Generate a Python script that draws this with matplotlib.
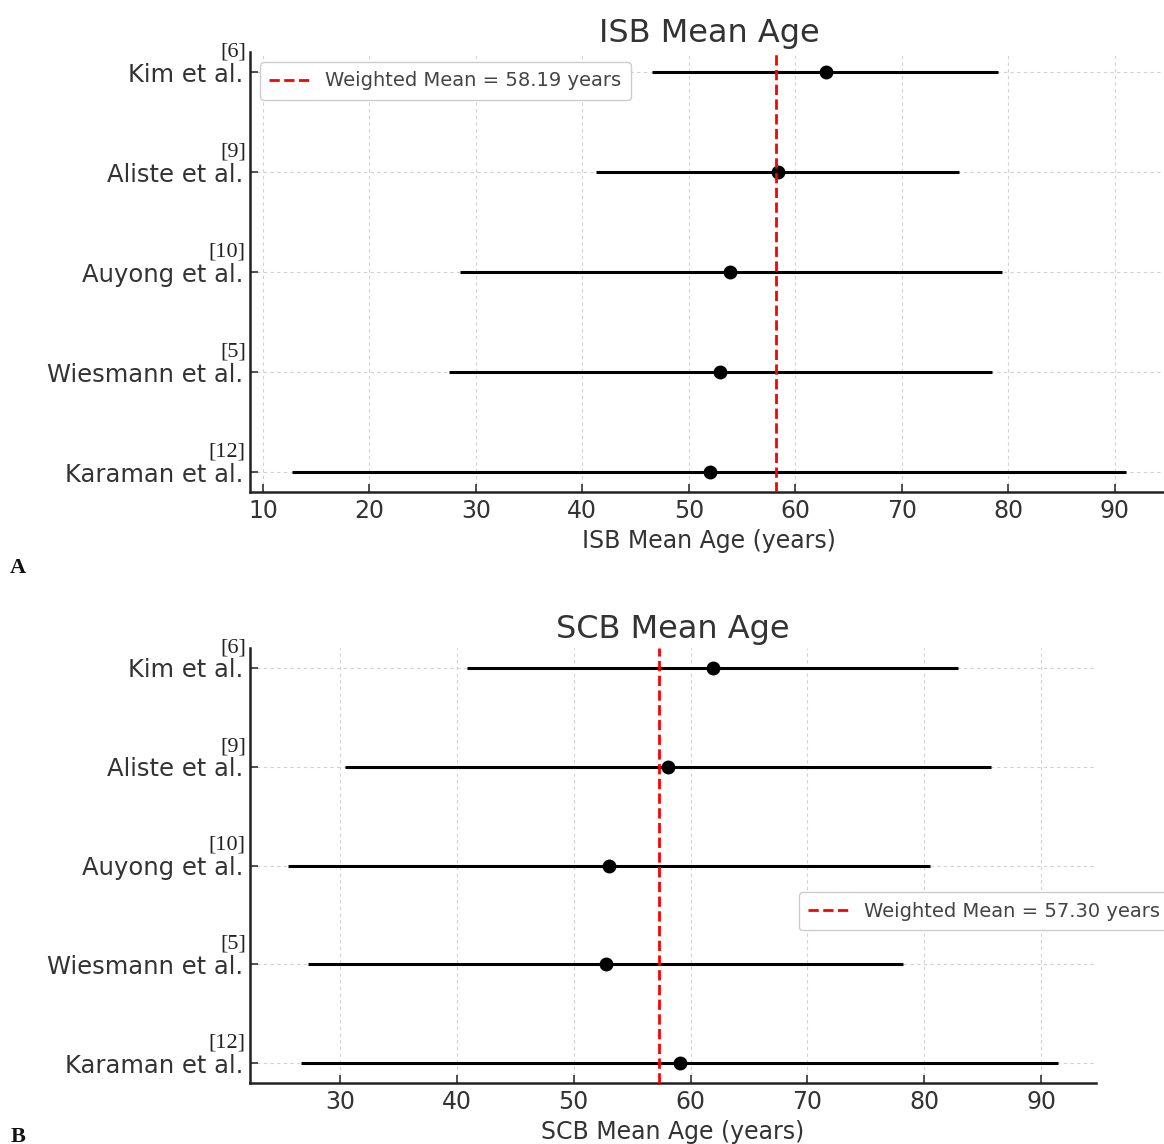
import matplotlib.pyplot as plt

studies = ['Kim et al.', 'Aliste et al.', 'Auyong et al.', 'Wiesmann et al.', 'Karaman et al.']
refs = ['[6]', '[9]', '[10]', '[5]', '[12]']

# ISB panel (A)
isb_mean = [62.9, 58.4, 53.9, 52.9, 52.0]
isb_low = [46.5, 41.3, 28.5, 27.5, 12.7]
isb_high = [79.0, 75.4, 79.4, 78.5, 91.1]
isb_weighted = 58.19

# SCB panel (B)
scb_mean = [61.9, 58.1, 53.0, 52.8, 59.1]
scb_low = [40.9, 30.4, 25.6, 27.3, 26.7]
scb_high = [82.9, 85.7, 80.5, 78.2, 91.4]
scb_weighted = 57.30

TXT = '#333333'


def forest(ax, means, lows, highs, wmean, name):
    ys = list(range(len(studies)))
    xerr = [[m - l for m, l in zip(means, lows)], [h - m for m, h in zip(means, highs)]]
    ax.errorbar(means, ys, xerr=xerr, fmt='o', color='black', ecolor='black',
                elinewidth=2.2, capsize=0, markersize=9, zorder=3)
    line = ax.axvline(wmean, color='red', linestyle='--', linewidth=2,
                      label=f'Weighted Mean = {wmean:.2f} years', zorder=4)
    ax.set_yticks(ys)
    ax.set_yticklabels(studies)
    ax.invert_yaxis()
    ax.set_title(f'{name} Mean Age', fontsize=23, color=TXT, pad=7)
    ax.set_xlabel(f'{name} Mean Age (years)', fontsize=17, color=TXT, labelpad=4)
    ax.grid(True, linestyle=(0, (3, 3)), color='#d2d2d2', linewidth=0.8)
    ax.set_axisbelow(True)
    for s in ['top', 'right']:
        ax.spines[s].set_visible(False)
    for s in ['left', 'bottom']:
        ax.spines[s].set_linewidth(1.8)
        ax.spines[s].set_color('#222222')
    ax.tick_params(direction='in', length=6, width=1.2, color='#333333',
                   labelsize=17, labelcolor=TXT, pad=5)
    ax.tick_params(axis='y', labelsize=17.5)
    for y, r in zip(ys, refs):
        ax.annotate(r, xy=(0, y), xycoords=ax.get_yaxis_transform(),
                    xytext=(-3, 14.5), textcoords='offset points',
                    ha='right', va='center', fontsize=16,
                    fontfamily='Liberation Serif', color='#222222')
    return line


fig = plt.figure(figsize=(11.64, 11.44), dpi=100)
ax1 = fig.add_axes([0.2148, 0.5699, 0.7887, 0.3846])
ax2 = fig.add_axes([0.2148, 0.0533, 0.7268, 0.3802])

forest(ax1, isb_mean, isb_low, isb_high, isb_weighted, 'ISB')
forest(ax2, scb_mean, scb_low, scb_high, scb_weighted, 'SCB')

ax1.set_xticks([10, 20, 30, 40, 50, 60, 70, 80, 90])
ax2.set_xticks([30, 40, 50, 60, 70, 80, 90])

leg_kw = dict(fontsize=14, frameon=True, fancybox=True, framealpha=1,
              edgecolor='#cccccc', handlelength=2.1, handletextpad=0.75,
              borderpad=0.5)
l1 = ax1.legend(loc='upper left', **leg_kw)
l2 = ax2.legend(loc='center left', bbox_to_anchor=(0.637, 0.395), **leg_kw)
for lg in (l1, l2):
    for t in lg.get_texts():
        t.set_color('#444444')

fig.text(0.0155, 0.5035, 'A', fontsize=16, fontweight='bold',
         fontfamily='Liberation Serif', ha='center', va='center', color='#111111')
fig.text(0.0155, 0.006, 'B', fontsize=16, fontweight='bold',
         fontfamily='Liberation Serif', ha='center', va='center', color='#111111')

fig.savefig('out.png', dpi=100)
